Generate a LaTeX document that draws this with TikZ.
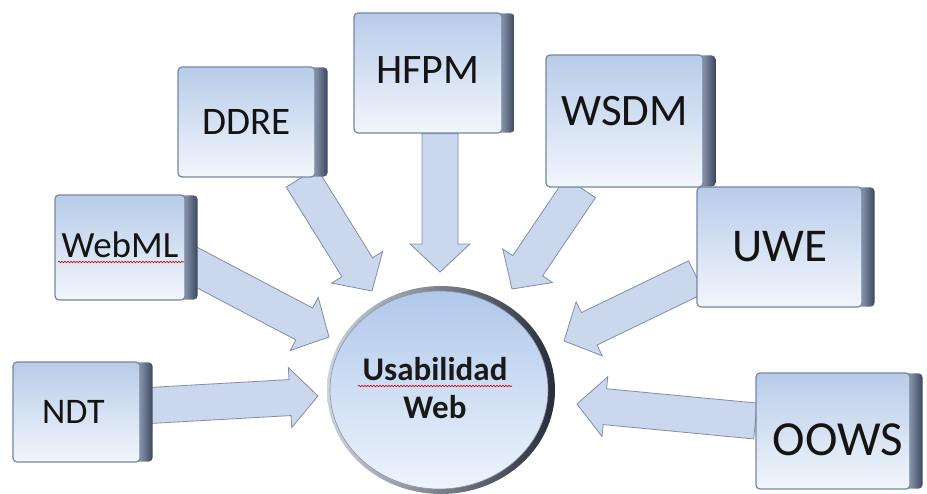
\documentclass[tikz,border=0pt]{standalone}
\usepackage{fontspec}
\setmainfont{Carlito}
\usetikzlibrary{calc,shapes.geometric,backgrounds,decorations.pathmorphing}
\definecolor{boxtop}{RGB}{184,204,233}
\definecolor{boxbot}{RGB}{242,246,252}
\definecolor{boxedge}{RGB}{118,134,160}
\definecolor{sidelight}{RGB}{176,190,212}
\definecolor{sidedark}{RGB}{58,70,94}
\definecolor{arrowfill}{RGB}{202,215,237}
\definecolor{arrowedge}{RGB}{128,142,168}
\definecolor{circtop}{RGB}{176,200,235}
\definecolor{circbot}{RGB}{238,244,252}
\definecolor{rimlight}{RGB}{205,211,221}
\definecolor{rimdark}{RGB}{38,44,58}
\tikzset{
  mbox/.style={rectangle, rounded corners=4pt, draw=boxedge, line width=1.2pt,
    top color=boxtop, bottom color=boxbot, inner sep=0pt},
  lbl/.style={font=\fontsize{#1}{#1}\selectfont, text=black!92, inner sep=0pt},
  sidebox/.style={left color=sidelight, right color=sidedark, rounded corners=4pt},
  barrow/.style={fill=arrowfill, draw=arrowedge, line width=0.8pt, line join=miter},
  squig/.style={red!80!black, line width=0.6pt, decorate,
    decoration={snake, amplitude=0.8pt, segment length=3pt}},
}
\newcommand\blockarrow[2]{%
  \coordinate (ba-h) at ($(#2)!28pt!(#1)$);
  \draw[barrow] ($(#1)!18pt!90:(#2)$) -- ($(ba-h)!18pt!90:(#2)$) --
    ($(ba-h)!30pt!90:(#2)$) -- (#2) -- ($(ba-h)!30pt!-90:(#2)$) --
    ($(ba-h)!18pt!-90:(#2)$) -- ($(#1)!18pt!-90:(#2)$) -- cycle;}
\newcommand\sidepart[1]{%
  \shade[sidebox] ([xshift=-8pt,yshift=-1pt]#1.north east) rectangle ([xshift=12pt,yshift=1pt]#1.south east);}
\begin{document}
\begin{tikzpicture}[x=1pt,y=-1pt]
\useasboundingbox (0,0) rectangle (927,493);
% boxes
\node[mbox, minimum width=127pt, minimum height=100pt, label={[lbl=36, xshift=-3pt]center:NDT}] (ndt) at (76.5,412) {};
\node[mbox, minimum width=130pt, minimum height=105pt, label={[lbl=37, yshift=3pt]center:WebML}] (webml) at (120,247.5) {};
\node[mbox, minimum width=137pt, minimum height=110pt, label={[lbl=39]center:DDRE}] (ddre) at (246.5,122) {};
\node[mbox, minimum width=148pt, minimum height=120pt, label={[lbl=42, yshift=3pt]center:HFPM}] (hfpm) at (428,73) {};
\node[mbox, minimum width=157pt, minimum height=132pt, label={[lbl=45, yshift=10pt]center:WSDM}] (wsdm) at (624.5,121) {};
\node[mbox, minimum width=165pt, minimum height=120pt, label={[lbl=47]center:UWE}] (uwe) at (779.5,247) {};
\node[mbox, minimum width=154pt, minimum height=116pt, label={[lbl=49, xshift=5pt, yshift=-9pt]center:OOWS}] (oows) at (833,431) {};
% centre
\shade[left color=rimlight, right color=rimdark] (441,390) ellipse [x radius=114, y radius=104];
\node[ellipse, minimum width=218pt, minimum height=198pt, top color=circtop, bottom color=circbot,
  draw=rimlight!70!black, line width=0.6pt] (c) at (439,390) {};
\node[font=\fontsize{33}{38}\selectfont\bfseries, align=center, text=black!90] (ct) at (435,388) {Usabilidad\\Web};
\draw[squig] (358,386) -- (512,386);
\draw[squig] (58,262) -- (184,262);
% start and tip points
\coordinate (sNDT) at ($(ndt.east)+(0,-6)$);
\coordinate (tNDT) at (318,396);
\coordinate (sWebML) at ($(webml.east)+(0,14)$);
\coordinate (tWebML) at (329,337);
\coordinate (sDDRE) at ($(ddre.south)+(55,0)$);
\coordinate (tDDRE) at (372,291);
\coordinate (sHFPM) at ($(hfpm.south)+(12,0)$);
\coordinate (tHFPM) at (440,272);
\coordinate (sWSDM) at ($(wsdm.south)+(-44,0)$);
\coordinate (tWSDM) at (512,289);
\coordinate (sUWE) at ($(uwe.west)+(0,30)$);
\coordinate (tUWE) at (564,341);
\coordinate (sOOWS) at ($(oows.west)+(0,-10)$);
\coordinate (tOOWS) at (577,404);
\begin{scope}[on background layer]
  \fill[white] (0,0) rectangle (927,493);
  \blockarrow{sNDT}{tNDT}
  \blockarrow{sWebML}{tWebML}
  \blockarrow{sDDRE}{tDDRE}
  \blockarrow{sHFPM}{tHFPM}
  \blockarrow{sWSDM}{tWSDM}
  \blockarrow{sUWE}{tUWE}
  \blockarrow{sOOWS}{tOOWS}
  \sidepart{ndt}
  \sidepart{webml}
  \sidepart{ddre}
  \sidepart{hfpm}
  \sidepart{wsdm}
  \sidepart{uwe}
  \sidepart{oows}
\end{scope}
\end{tikzpicture}
\end{document}
